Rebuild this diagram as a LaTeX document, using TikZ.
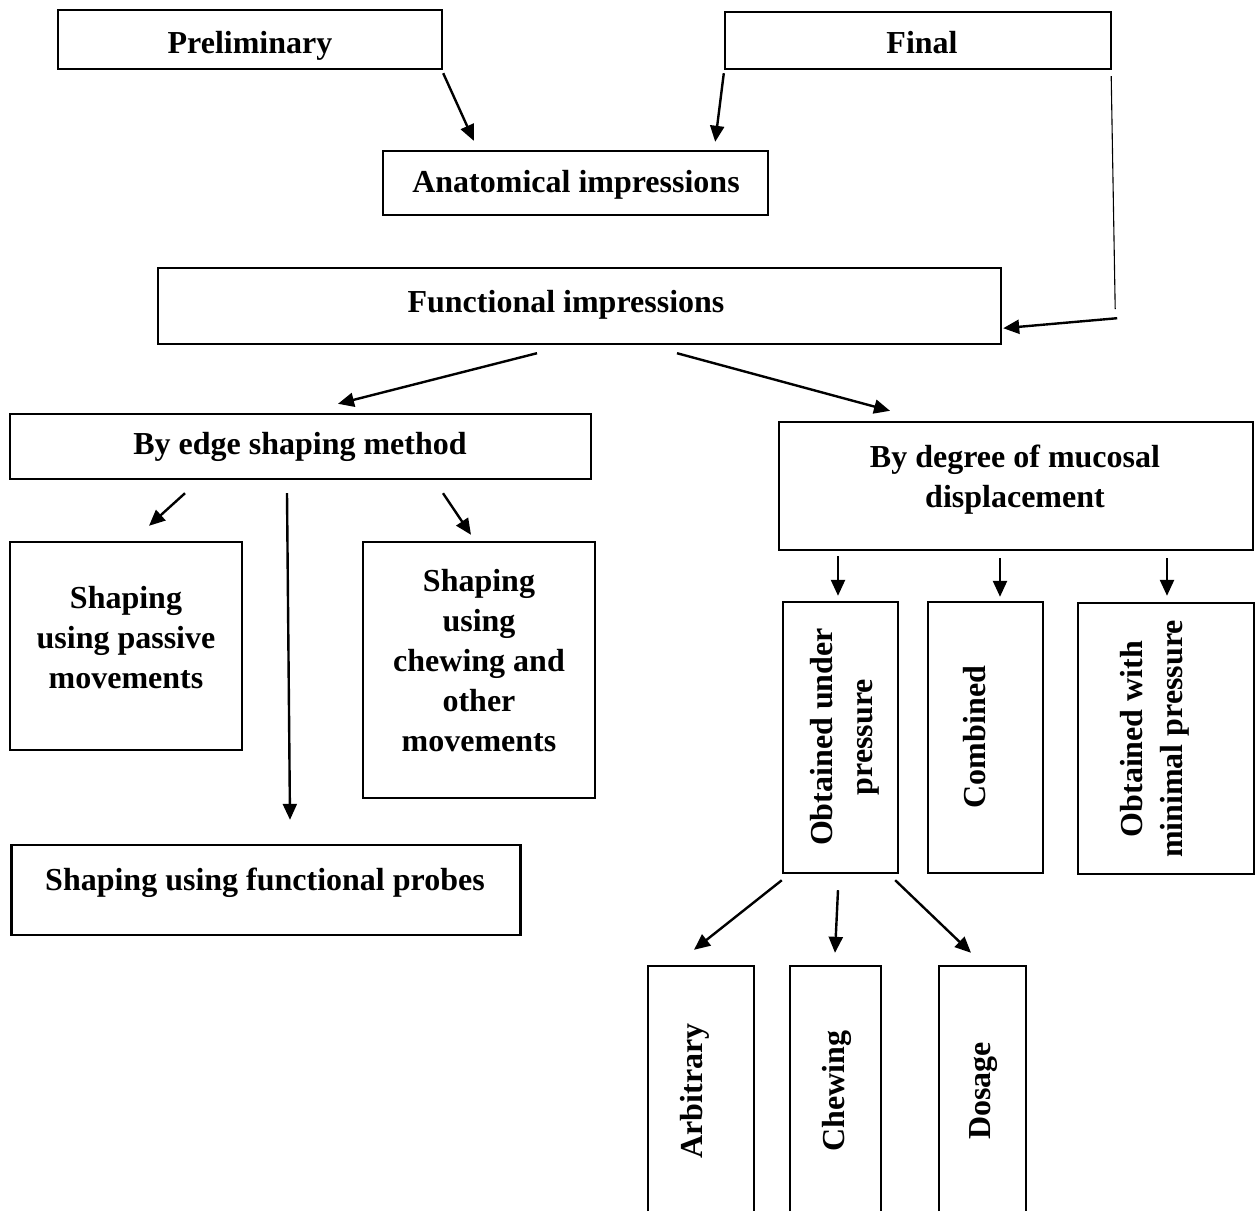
\documentclass[tikz,border=0pt]{standalone}
\usepackage{fontspec}
\setmainfont{Liberation Serif}
\usetikzlibrary{arrows.meta,calc}
\begin{document}
\begin{tikzpicture}[x=1pt,y=-1pt,
  box/.style={draw, line width=2.4pt, inner sep=0pt},
  lbl/.style={font=\fontsize{32}{40}\selectfont\bfseries, inner sep=0pt, align=center},
  arr/.style={line width=2.4pt, -{Triangle[length=16pt,width=14pt]}},
  thinline/.style={line width=1.1pt}]
\useasboundingbox (0,0) rectangle (1260,1211);
% boxes
\node[box, minimum width=384pt, minimum height=59pt] (prelim) at (250,39.5) {};
\node[box, minimum width=386pt, minimum height=57pt] (final) at (918,40.5) {};
\node[box, minimum width=385pt, minimum height=64pt] (anat) at (575.5,183) {};
\node[box, minimum width=843pt, minimum height=76pt] (func) at (579.5,306) {};
\node[box, minimum width=581pt, minimum height=65pt] (edge) at (300.5,446.5) {};
\node[box, minimum width=474pt, minimum height=128pt] (degree) at (1016,486) {};
\node[box, minimum width=232pt, minimum height=208pt] (passive) at (126,646) {};
\node[box, minimum width=232pt, minimum height=256pt] (chewo) at (479,670) {};
\node[box, minimum width=509pt, minimum height=90pt] (probes) at (266,890) {};
\node[box, minimum width=115pt, minimum height=271pt] (opress) at (840.5,737.5) {};
\node[box, minimum width=115pt, minimum height=271pt] (comb) at (985.5,737.5) {};
\node[box, minimum width=176pt, minimum height=271pt] (minp) at (1166,738.5) {};
% open-bottom boxes
\node[minimum width=106pt, minimum height=245pt, inner sep=0pt] (arb) at (701,1088.5) {};
\node[minimum width=91pt, minimum height=245pt, inner sep=0pt] (chw) at (835.5,1088.5) {};
\node[minimum width=87pt, minimum height=245pt, inner sep=0pt] (dos) at (982.5,1088.5) {};
\foreach \b in {arb,chw,dos}
  \draw[line width=2.4pt] (\b.south west) -- (\b.north west) -- (\b.north east) -- (\b.south east);
% texts
\node[lbl, anchor=base] (prelimT) at (250,53) {Preliminary};
\node[lbl, anchor=base] (finalT) at (922,53) {Final};
\node[lbl, anchor=base] (anatT) at (576,192.5) {Anatomical impressions};
\node[lbl, anchor=base] (funcT) at (566,312.5) {Functional impressions};
\node[lbl, anchor=base] (edgeT) at (300,454.5) {By edge shaping method};
\node[lbl, anchor=north] (degreeT) at (1015,444.5) {By degree of mucosal\\displacement};
\node[lbl, anchor=north] (passiveT) at (126,586.5) {Shaping\\using passive\\movements};
\node[lbl, anchor=north] (chewoT) at (479,569.5) {Shaping\\using\\chewing and\\other\\movements};
\node[lbl, anchor=base] (probesT) at (265,890.5) {Shaping using functional probes};
\node[lbl, rotate=90] (opressT) at (845,737) {Obtained under\\pressure};
\node[lbl, rotate=90] (combT) at (975,737) {Combined};
\node[lbl, rotate=90] (minpT) at (1155,739) {Obtained with\\minimal pressure};
\node[lbl, rotate=90] (arbT) at (695,1091) {Arbitrary};
\node[lbl, rotate=90] (chwT) at (837,1091) {Chewing};
\node[lbl, rotate=90] (dosT) at (984,1091) {Dosage};
% connectors
\draw[arr] ($(prelim.south east)+(0,3)$) -- ($(anat.north west)+(92,-9)$);
\draw[arr] ($(final.south west)+(0,3)$) -- ($(anat.north east)+(-54,-8)$);
\coordinate (fbend) at ($(func.south east)+(113,-36)$);
\draw[thinline] ($(final.south east)+(-1,6)$) -- (fbend);
\draw[arr] ($(fbend)+(2,9)$) -- ($(func.south east)+(1,-17)$);
\draw[arr] ($(func.south)+(-42.5,8)$) -- ($(edge.north)+(37.5,-9)$);
\draw[arr] ($(func.south)+(97.5,8)$) -- ($(degree.north)+(-126,-10)$);
\draw[arr] ($(edge.south)+(-115.5,13)$) -- ($(passive.north)+(23,-15)$);
\draw[arr] ($(edge.south)+(-13.5,13)$) -- ($(probes.north)+(24,-24)$);
\draw[arr] ($(edge.south)+(142.5,13)$) -- ($(chewo.north)+(-8,-6)$);
\draw[arr] ($(degree.south)+(-178,5)$) -- ($(opress.north)+(-2.5,-5)$);
\draw[arr] ($(degree.south)+(-16,7)$) -- ($(comb.north)+(14.5,-4)$);
\draw[arr] ($(degree.south)+(151,7)$) -- ($(minp.north)+(1,-6)$);
\draw[arr] ($(opress.south west)+(0,6)$) -- ($(arb.north)+(-7,-16)$);
\draw[arr] ($(opress.south)+(-2.5,16)$) -- ($(chw.north)+(-0.5,-13)$);
\draw[arr] ($(opress.south east)+(-4,6)$) -- ($(dos.north)+(-11.5,-13)$);
\end{tikzpicture}
\end{document}
